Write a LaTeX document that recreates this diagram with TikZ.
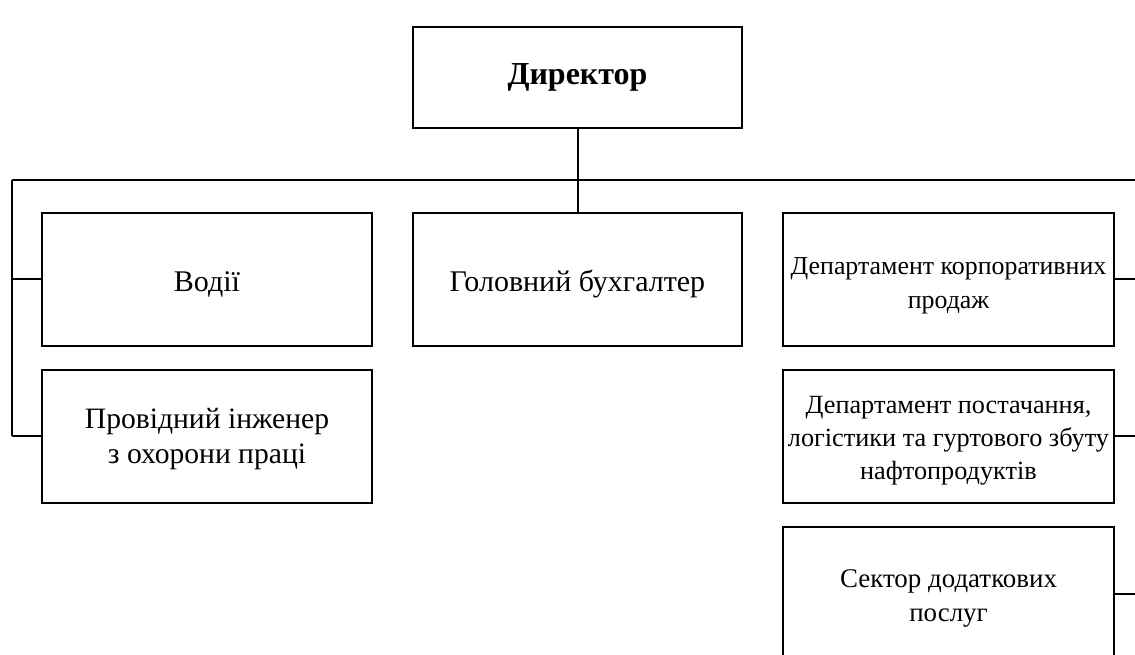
\documentclass[tikz,border=0pt]{standalone}
\usepackage{fontspec}
\setmainfont{Liberation Serif}
\newcommand\boxtext[2][3.5pt]{\raisebox{-#1}[\height][\depth]{\begin{tabular}{@{}c@{}}#2\end{tabular}}}
\tikzset{
  box/.style={draw=black, line width=1.5pt, rectangle, inner sep=0pt, outer sep=0pt, align=center, fill=white},
  wbox/.style={box, minimum width=247.5pt, minimum height=99.75pt},
  rbox/.style={box, minimum width=248.25pt, minimum height=99.75pt},
  conn/.style={draw=black, line width=1.5pt},
}
\begin{document}
\begin{tikzpicture}[x=0.75pt,y=-0.75pt]
\useasboundingbox (0,0) rectangle (1135,655);
\clip (0,0) rectangle (1135,655);
% nodes
\node[box, font=\fontsize{24}{28}\selectfont, minimum width=246.75pt, minimum height=75.75pt] (dir) at (577.5,77.5) {\boxtext[0pt]{\textbf{Директор}}};
\node[wbox, font=\fontsize{22.5}{27}\selectfont] (vodii) at (207,279.5) {\boxtext[3.75pt]{Водії}};
\node[wbox, font=\fontsize{22.2}{26.3}\selectfont] (provid) at (207,436.5) {\boxtext[2pt]{Провідний інженер\\з охорони праці}};
\node[box, font=\fontsize{22.5}{27}\selectfont, minimum width=246.75pt, minimum height=99.75pt] (golov) at (577.5,279.5) {\boxtext[3.75pt]{Головний бухгалтер}};
\node[rbox, font=\fontsize{19.4}{26.2}\selectfont] (korp) at (948.5,279.5) {\boxtext[3.75pt]{Департамент корпоративних\\продаж}};
\node[rbox, font=\fontsize{19.7}{24.75}\selectfont] (post) at (948.5,436.5) {\boxtext[2.5pt]{Департамент постачання,\\логістики та гуртового збуту\\нафтопродуктів}};
\node[rbox, font=\fontsize{20.2}{25.5}\selectfont] (sect) at (948.5,593.5) {\boxtext[3pt]{Сектор додаткових\\послуг}};
% coordinates
\coordinate (busL) at (12,180);
\coordinate (busR) at (1135,180);
\coordinate (lV) at (12,279.5);
\coordinate (lP) at (12,436.5);
\coordinate (rK) at (1135,279.5);
\coordinate (rP) at (1135,436.5);
\coordinate (rS) at (1135,593.5);
% connectors
\draw[conn] (dir.south) -- (golov.north);
\draw[conn] (busL) -- (busR);
\draw[conn] (busL) -- (lP);
\draw[conn] (lV) -- (vodii.west);
\draw[conn] (lP) -- (provid.west);
\draw[conn] (korp.east) -- (rK);
\draw[conn] (post.east) -- (rP);
\draw[conn] (sect.east) -- (rS);
\end{tikzpicture}
\end{document}
